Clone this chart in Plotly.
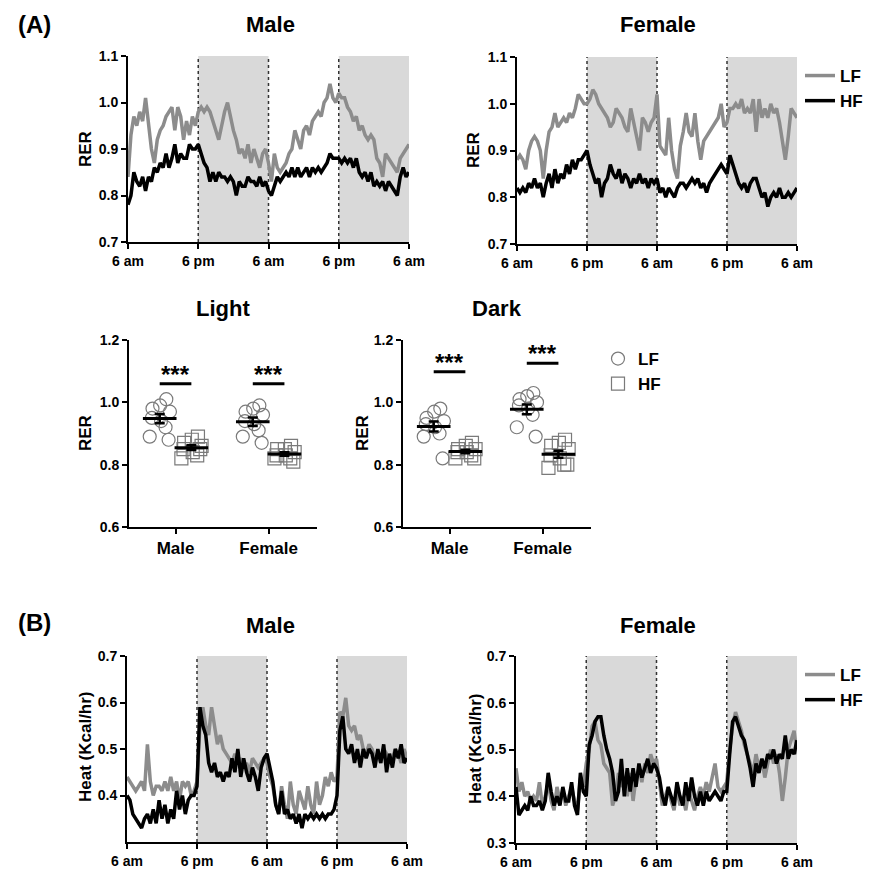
import numpy as np
import plotly.graph_objects as go

# ---------------- data ----------------
HOURS = np.arange(0, 48.5, 0.5)
TIME_TICKS = [0, 12, 24, 36, 48]
TIME_LABELS = ["6 am", "6 pm", "6 am", "6 pm", "6 am"]
DARK_PERIODS = [(12, 24), (36, 48)]
TRANSITIONS = [12, 24, 36]

RER_MALE_LF = [
    0.84, 0.93, 0.97, 0.95, 0.98, 0.96, 1.01, 0.95, 0.90, 0.87,
    0.92, 0.94, 0.95, 0.97, 0.98, 0.99, 0.94, 0.99, 0.97, 0.92,
    0.96, 0.93, 0.97, 0.95, 0.98, 0.99, 0.98, 0.99, 0.98, 0.96,
    0.94, 0.92, 0.95, 0.98, 1.00, 0.97, 0.94, 0.92, 0.89, 0.90,
    0.88, 0.91, 0.87, 0.90, 0.88, 0.86, 0.89, 0.90, 0.87, 0.83,
    0.89, 0.86, 0.85, 0.86, 0.87, 0.89, 0.90, 0.94, 0.92, 0.90,
    0.94, 0.95, 0.93, 0.96, 0.97, 0.98, 0.97, 1.00, 1.01, 1.04,
    1.01, 1.00, 1.02, 1.01, 1.01, 0.99, 0.98, 0.96, 0.97, 0.94,
    0.95, 0.93, 0.92, 0.93, 0.92, 0.88, 0.87, 0.84, 0.89, 0.88,
    0.87, 0.86, 0.85, 0.88, 0.89, 0.90, 0.91]
RER_MALE_HF = [
    0.78, 0.80, 0.85, 0.83, 0.82, 0.84, 0.81, 0.84, 0.83, 0.86,
    0.85, 0.87, 0.86, 0.89, 0.86, 0.88, 0.91, 0.87, 0.89, 0.88,
    0.88, 0.91, 0.90, 0.90, 0.91, 0.89, 0.87, 0.86, 0.83, 0.85,
    0.83, 0.85, 0.84, 0.84, 0.83, 0.84, 0.83, 0.80, 0.83, 0.82,
    0.82, 0.84, 0.83, 0.83, 0.82, 0.84, 0.82, 0.83, 0.81, 0.80,
    0.82, 0.84, 0.83, 0.84, 0.85, 0.84, 0.86, 0.84, 0.86, 0.84,
    0.85, 0.86, 0.84, 0.86, 0.85, 0.86, 0.85, 0.86, 0.87, 0.89,
    0.88, 0.88, 0.88, 0.87, 0.88, 0.87, 0.88, 0.86, 0.88, 0.85,
    0.84, 0.85, 0.83, 0.85, 0.82, 0.83, 0.82, 0.83, 0.81, 0.83,
    0.82, 0.81, 0.80, 0.84, 0.86, 0.84, 0.85]
RER_FEMALE_LF = [
    0.88, 0.89, 0.88, 0.86, 0.90, 0.92, 0.93, 0.92, 0.90, 0.84,
    0.90, 0.94, 0.95, 0.98, 0.95, 0.96, 0.97, 0.96, 0.98, 0.97,
    0.99, 1.02, 1.01, 1.00, 1.00, 1.01, 1.03, 1.02, 1.00, 0.99,
    0.98, 0.97, 0.95, 0.96, 0.99, 0.98, 0.97, 0.95, 0.94, 0.99,
    0.96, 0.93, 0.90, 0.97, 0.96, 0.94, 0.96, 0.97, 1.02, 0.91,
    0.90, 0.89, 0.97, 0.90, 0.86, 0.84, 0.91, 0.94, 0.98, 0.94,
    0.93, 0.98, 0.92, 0.88, 0.92, 0.93, 0.94, 0.95, 0.96, 0.97,
    1.00, 0.95, 0.96, 0.99, 0.99, 1.00, 0.99, 1.01, 0.98, 0.99,
    0.98, 1.01, 0.94, 1.01, 0.97, 0.99, 0.97, 1.00, 0.98, 0.99,
    0.96, 0.92, 0.88, 0.93, 0.99, 0.98, 0.97]
RER_FEMALE_HF = [
    0.82, 0.81, 0.82, 0.81, 0.83, 0.82, 0.84, 0.82, 0.83, 0.80,
    0.83, 0.85, 0.82, 0.86, 0.83, 0.85, 0.84, 0.87, 0.85, 0.88,
    0.86, 0.88, 0.88, 0.89, 0.90, 0.87, 0.85, 0.83, 0.84, 0.80,
    0.83, 0.84, 0.87, 0.85, 0.84, 0.86, 0.83, 0.85, 0.84, 0.82,
    0.84, 0.83, 0.85, 0.83, 0.84, 0.82, 0.84, 0.83, 0.84, 0.81,
    0.82, 0.80, 0.82, 0.81, 0.80, 0.82, 0.83, 0.83, 0.82, 0.83,
    0.84, 0.83, 0.84, 0.82, 0.83, 0.81, 0.83, 0.84, 0.85, 0.86,
    0.87, 0.86, 0.85, 0.89, 0.87, 0.85, 0.83, 0.82, 0.83, 0.81,
    0.83, 0.84, 0.84, 0.82, 0.80, 0.81, 0.78, 0.80, 0.81, 0.80,
    0.82, 0.80, 0.80, 0.81, 0.80, 0.81, 0.82]

HEAT_MALE_LF = [
    0.44, 0.43, 0.42, 0.41, 0.42, 0.43, 0.41, 0.51, 0.43, 0.40,
    0.42, 0.42, 0.41, 0.43, 0.41, 0.44, 0.41, 0.43, 0.39, 0.43,
    0.42, 0.43, 0.40, 0.41, 0.43, 0.55, 0.59, 0.55, 0.53, 0.59,
    0.55, 0.51, 0.53, 0.50, 0.49, 0.48, 0.47, 0.49, 0.47, 0.48,
    0.46, 0.47, 0.45, 0.48, 0.47, 0.46, 0.47, 0.48, 0.47, 0.44,
    0.42, 0.38, 0.36, 0.42, 0.38, 0.35, 0.43, 0.38, 0.36, 0.41,
    0.39, 0.37, 0.42, 0.38, 0.36, 0.43, 0.38, 0.40, 0.44, 0.42,
    0.45, 0.43, 0.44, 0.58, 0.57, 0.61, 0.55, 0.54, 0.55, 0.52,
    0.53, 0.50, 0.49, 0.51, 0.50, 0.48, 0.49, 0.47, 0.50, 0.49,
    0.47, 0.48, 0.50, 0.49, 0.47, 0.50, 0.48]
HEAT_MALE_HF = [
    0.40, 0.39, 0.36, 0.35, 0.34, 0.33, 0.35, 0.36, 0.34, 0.37,
    0.34, 0.39, 0.35, 0.38, 0.34, 0.37, 0.35, 0.41, 0.37, 0.40,
    0.36, 0.39, 0.40, 0.40, 0.42, 0.59, 0.55, 0.53, 0.47, 0.45,
    0.47, 0.44, 0.45, 0.43, 0.45, 0.44, 0.48, 0.45, 0.50, 0.44,
    0.48, 0.45, 0.43, 0.46, 0.44, 0.41, 0.46, 0.48, 0.49, 0.46,
    0.43, 0.38, 0.36, 0.41, 0.36, 0.37, 0.35, 0.36, 0.34, 0.36,
    0.33, 0.36, 0.35, 0.36, 0.35, 0.36, 0.35, 0.36, 0.35, 0.36,
    0.36, 0.37, 0.40, 0.54, 0.57, 0.50, 0.49, 0.51, 0.47, 0.50,
    0.46, 0.50, 0.48, 0.50, 0.49, 0.46, 0.50, 0.47, 0.51, 0.45,
    0.49, 0.46, 0.50, 0.48, 0.51, 0.47, 0.48]
HEAT_FEMALE_LF = [
    0.46, 0.41, 0.43, 0.40, 0.41, 0.39, 0.40, 0.39, 0.43, 0.38,
    0.40, 0.43, 0.39, 0.37, 0.42, 0.39, 0.41, 0.38, 0.40, 0.42,
    0.39, 0.37, 0.44, 0.42, 0.47, 0.50, 0.55, 0.56, 0.52, 0.51,
    0.47, 0.46, 0.45, 0.38, 0.40, 0.45, 0.42, 0.44, 0.40, 0.45,
    0.39, 0.44, 0.46, 0.43, 0.47, 0.45, 0.49, 0.47, 0.48, 0.43,
    0.38, 0.40, 0.42, 0.39, 0.37, 0.42, 0.38, 0.40, 0.37, 0.41,
    0.39, 0.37, 0.40, 0.42, 0.40, 0.43, 0.41, 0.44, 0.47, 0.42,
    0.41, 0.42, 0.43, 0.50, 0.55, 0.58, 0.56, 0.54, 0.51, 0.49,
    0.47, 0.45, 0.49, 0.46, 0.48, 0.44, 0.47, 0.50, 0.47, 0.49,
    0.45, 0.39, 0.44, 0.50, 0.52, 0.54, 0.49]
HEAT_FEMALE_HF = [
    0.42, 0.36, 0.37, 0.38, 0.37, 0.40, 0.38, 0.38, 0.39, 0.37,
    0.39, 0.45, 0.41, 0.38, 0.40, 0.38, 0.42, 0.39, 0.39, 0.43,
    0.38, 0.36, 0.45, 0.41, 0.40, 0.51, 0.53, 0.56, 0.57, 0.57,
    0.53, 0.50, 0.48, 0.45, 0.39, 0.41, 0.48, 0.40, 0.46, 0.41,
    0.46, 0.42, 0.47, 0.44, 0.46, 0.48, 0.45, 0.47, 0.46, 0.44,
    0.40, 0.38, 0.42, 0.40, 0.38, 0.43, 0.40, 0.38, 0.43, 0.39,
    0.44, 0.40, 0.38, 0.41, 0.38, 0.41, 0.39, 0.40, 0.41, 0.40,
    0.39, 0.41, 0.41, 0.49, 0.56, 0.57, 0.55, 0.53, 0.52, 0.49,
    0.46, 0.42, 0.47, 0.45, 0.48, 0.46, 0.49, 0.48, 0.50, 0.47,
    0.49, 0.48, 0.53, 0.48, 0.50, 0.49, 0.52]

SEX_CATEGORIES = ["Male", "Female"]
LIGHT_MALE_LF = [1.01, 0.99, 0.98, 0.97, 0.95, 0.94, 0.92, 0.89, 0.88]
LIGHT_MALE_HF = [0.89, 0.88, 0.87, 0.86, 0.85, 0.84, 0.83, 0.82, 0.85]
LIGHT_FEMALE_LF = [0.99, 0.98, 0.97, 0.96, 0.94, 0.93, 0.91, 0.89, 0.87]
LIGHT_FEMALE_HF = [0.86, 0.85, 0.85, 0.84, 0.83, 0.83, 0.82, 0.82, 0.81]
DARK_MALE_LF = [0.98, 0.97, 0.95, 0.94, 0.93, 0.92, 0.90, 0.89, 0.82]
DARK_MALE_HF = [0.87, 0.86, 0.85, 0.85, 0.84, 0.84, 0.83, 0.82, 0.82]
DARK_FEMALE_LF = [1.03, 1.02, 1.01, 1.00, 0.99, 0.98, 0.96, 0.92, 0.89]
DARK_FEMALE_HF = [0.88, 0.87, 0.86, 0.85, 0.83, 0.82, 0.80, 0.79, 0.80]
SIGNIF_LABEL = "***"

# ---------------- style / layout helpers ----------------
W, H = 874, 869
FONT = "Liberation Sans"
GRAY = "#8c8c8c"
PT_GRAY = "#7a7a7a"
SHADE = "#d9d9d9"


def px(x):
    return x / W


def py(y):
    return 1 - y / H


fig = go.Figure()


def axis_style(**kw):
    d = dict(showline=True, linecolor="black", linewidth=2, ticks="outside",
             ticklen=5, tickwidth=1.5, tickcolor="black", showgrid=False,
             zeroline=False, automargin=False, fixedrange=True,
             tickfont=dict(family=FONT, size=14, color="black", weight="bold"))
    d.update(kw)
    return d


layout_axes = {}


def add_axes(n, xdom, ydom, xkw, ykw):
    xs = "xaxis" if n == 1 else f"xaxis{n}"
    ys = "yaxis" if n == 1 else f"yaxis{n}"
    xa = "x" if n == 1 else f"x{n}"
    ya = "y" if n == 1 else f"y{n}"
    layout_axes[xs] = axis_style(domain=[px(xdom[0]), px(xdom[1])], anchor=ya, **xkw)
    layout_axes[ys] = axis_style(domain=[py(ydom[1]), py(ydom[0])], anchor=xa, **ykw)
    return xa, ya


time_x = dict(range=[0, 48], tickvals=TIME_TICKS, ticktext=TIME_LABELS)
shapes = []


def time_panel(n, xdom, ydom, yrange, ytickvals, lf, hf, legend=None):
    xa, ya = add_axes(n, xdom, ydom, time_x,
                      dict(range=yrange, tickvals=ytickvals, tickformat=".1f"))
    for a, b in DARK_PERIODS:
        shapes.append(dict(type="rect", xref=xa, yref=f"{ya} domain", x0=a, x1=b,
                           y0=0, y1=1, fillcolor=SHADE, line=dict(width=0), layer="below"))
    for t in TRANSITIONS:
        shapes.append(dict(type="line", xref=xa, yref=f"{ya} domain", x0=t, x1=t,
                           y0=0, y1=1, line=dict(color="#333333", width=1.5, dash="dot"),
                           layer="below"))
    for name, vals, color in [("LF", lf, GRAY), ("HF", hf, "black")]:
        fig.add_trace(go.Scatter(
            x=HOURS, y=vals, mode="lines", name=name, xaxis=xa, yaxis=ya,
            line=dict(color=color, width=3.5),
            showlegend=legend is not None, legend=legend or "legend"))


time_panel(1, (128, 409), (56, 242), [0.7, 1.1], [0.7, 0.8, 0.9, 1.0, 1.1],
           RER_MALE_LF, RER_MALE_HF)
time_panel(2, (517, 797), (57, 244), [0.7, 1.1], [0.7, 0.8, 0.9, 1.0, 1.1],
           RER_FEMALE_LF, RER_FEMALE_HF, legend="legend")
time_panel(5, (127, 407), (656, 842), [0.3, 0.7], [0.4, 0.5, 0.6, 0.7],
           HEAT_MALE_LF, HEAT_MALE_HF)
time_panel(6, (516, 797), (656, 843), [0.3, 0.7], [0.3, 0.4, 0.5, 0.6, 0.7],
           HEAT_FEMALE_LF, HEAT_FEMALE_HF, legend="legend3")

GROUP_OFFSET = 0.17
SPREAD = 0.11


def dot_panel(n, xdom, ydom, groups, sig_levels, show_legend):
    xa, ya = add_axes(n, xdom, ydom,
                      dict(range=[-0.5, 1.52], tickvals=[0, 1], ticktext=SEX_CATEGORIES,
                           tickfont=dict(family=FONT, size=17, color="black", weight="bold")),
                      dict(range=[0.6, 1.2], tickvals=[0.6, 0.8, 1.0, 1.2], tickformat=".1f"))
    for ci, (lf, hf) in enumerate(groups):
        for gi, (name, vals, sym) in enumerate([("LF", lf, "circle-open"),
                                                 ("HF", hf, "square-open")]):
            center = ci + (-GROUP_OFFSET if gi == 0 else GROUP_OFFSET)
            xs = [center + SPREAD * np.sin(2.4 * i + 0.7) for i in range(len(vals))]
            fig.add_trace(go.Scatter(
                x=xs, y=vals, mode="markers", name=name, xaxis=xa, yaxis=ya,
                marker=dict(symbol=sym, size=13, color=PT_GRAY, line=dict(width=1.2, color=PT_GRAY)),
                showlegend=show_legend and ci == 0, legend="legend2"))
            arr = np.array(vals)
            mean = arr.mean()
            sem = arr.std(ddof=1) / np.sqrt(len(arr))
            fig.add_trace(go.Scatter(
                x=[center], y=[mean], mode="markers", xaxis=xa, yaxis=ya, showlegend=False,
                marker=dict(symbol="line-ew-open", size=24, color="black",
                            line=dict(width=3, color="black")),
                error_y=dict(type="data", array=[sem], color="black", thickness=2.5, width=5)))
        lvl = sig_levels[ci]
        shapes.append(dict(type="line", xref=xa, yref=ya, x0=ci - GROUP_OFFSET,
                           x1=ci + GROUP_OFFSET, y0=lvl, y1=lvl,
                           line=dict(color="black", width=3)))
        fig.add_annotation(x=ci, y=lvl, xref=xa, yref=ya, text=f"<b>{SIGNIF_LABEL}</b>",
                           showarrow=False, yanchor="bottom", yshift=-6,
                           font=dict(family=FONT, size=24, color="black"))


dot_panel(3, (129, 317), (340, 527),
          [(LIGHT_MALE_LF, LIGHT_MALE_HF), (LIGHT_FEMALE_LF, LIGHT_FEMALE_HF)],
          [1.06, 1.06], False)
dot_panel(4, (403, 591), (340, 527),
          [(DARK_MALE_LF, DARK_MALE_HF), (DARK_FEMALE_LF, DARK_FEMALE_HF)],
          [1.098, 1.125], True)


def text(s, x, y, size, angle=0):
    fig.add_annotation(text=f"<b>{s}</b>", x=px(x), y=py(y), xref="paper", yref="paper",
                       showarrow=False, textangle=angle, xanchor="center", yanchor="middle",
                       font=dict(family=FONT, size=size, color="black"))


text("(A)", 34, 24, 24)
text("(B)", 34, 622, 24)
text("Male", 270, 25, 22)
text("Female", 658, 25, 22)
text("Light", 223, 308, 22)
text("Dark", 497, 308, 22)
text("Male", 270, 625, 22)
text("Female", 658, 625, 22)
text("RER", 85, 149, 17, -90)
text("RER", 473, 150, 17, -90)
text("RER", 85, 433, 17, -90)
text("RER", 362, 433, 17, -90)
text("Heat (Kcal/hr)", 85, 747, 17, -90)
text("Heat (Kcal/hr)", 475, 749, 17, -90)

leg_font = dict(family=FONT, size=17, color="black", weight="bold")
common_leg = dict(xanchor="left", yanchor="top", bgcolor="rgba(0,0,0,0)", font=leg_font,
                  tracegroupgap=0, itemwidth=30, traceorder="normal")

fig.update_layout(
    width=W, height=H, margin=dict(l=0, r=0, t=0, b=0),
    paper_bgcolor="white", plot_bgcolor="white",
    shapes=shapes,
    legend=dict(x=px(800), y=py(58), **common_leg),
    legend2=dict(x=px(598), y=py(341), **common_leg),
    legend3=dict(x=px(800), y=py(657), **common_leg),
    **layout_axes,
)

fig.write_html("out.html", config={"displayModeBar": False},
               post_script="document.body.style.margin='0';document.body.style.overflow='hidden';")
